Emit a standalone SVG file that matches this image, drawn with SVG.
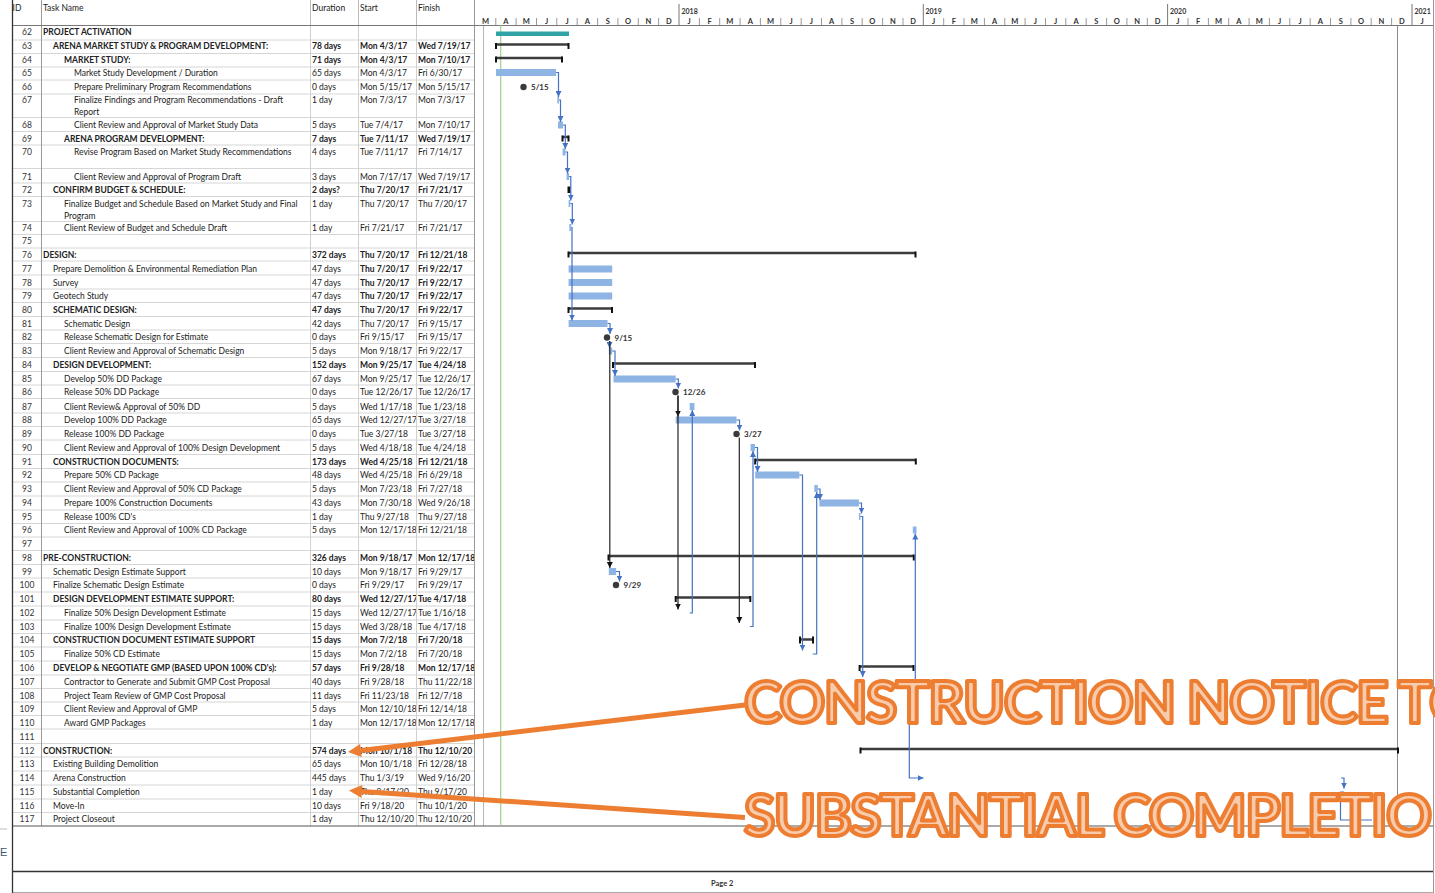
<svg xmlns="http://www.w3.org/2000/svg" width="1435" height="893" viewBox="0 0 1435 893">
<defs>
<style>
text{font-family:Lato,"Liberation Sans",sans-serif;fill:#222}
.t{font-size:8.5px}
.b{font-weight:bold}
.id{text-anchor:middle;fill:#333}
.mo{font-size:7.5px;font-weight:bold;text-anchor:middle;fill:#333}
.yr{font-size:7px;font-weight:bold;fill:#333}
.bar{fill:#8DB4E2}
.sl{stroke:#3c3c3c;stroke-width:2.5}
.tk{fill:#111}
.ln{fill:none;stroke:#4472C4;stroke-width:1.2}
.lk{fill:none;stroke:#222;stroke-width:1.2}
.ms{fill:#3a3a3a}
.ml{font-size:8px;font-weight:bold;fill:#333}
.grid{stroke:#D6D6D6;stroke-width:1;fill:none}
.call{font-size:57px;font-weight:bold;letter-spacing:-1.6px;fill:#F8CBAD;stroke:#ED7D31;stroke-width:4;stroke-linejoin:round}
.ol{stroke:#ED7D31;stroke-width:5;fill:none}
</style>
<clipPath id="cs"><rect x="358" y="0" width="58" height="893"/></clipPath>
<clipPath id="cf"><rect x="416" y="0" width="58" height="893"/></clipPath>
<marker id="ab" viewBox="0 0 10 10" refX="10" refY="5" markerWidth="6" markerHeight="6" markerUnits="userSpaceOnUse" orient="auto"><path d="M0,0L10,5L0,10z" fill="#4472C4"/></marker>
<marker id="ak" viewBox="0 0 10 10" refX="10" refY="5" markerWidth="6" markerHeight="7" markerUnits="userSpaceOnUse" orient="auto"><path d="M0,0L10,5L0,10z" fill="#111"/></marker>
</defs>
<rect width="1435" height="893" fill="#fff"/>

<g id="frame">
<path class="grid" d="M12,40H474M12,53.5H474M12,67H474M12,80H474M12,94H474M12,117.5H474M12,131.5H474M12,145H474M12,168.5H474M12,183H474M12,196.5H474M12,221.5H474M12,234.5H474M12,248H474M12,261H474M12,275H474M12,289H474M12,302.5H474M12,316.5H474M12,330H474M12,343.5H474M12,357.5H474M12,371.5H474M12,385H474M12,398.5H474M12,413H474M12,426.5H474M12,440H474M12,454.5H474M12,468.5H474M12,482H474M12,496H474M12,510H474M12,523.5H474M12,537H474M12,550.5H474M12,564.5H474M12,578H474M12,592H474M12,606H474M12,620H474M12,633.5H474M12,647H474M12,661H474M12,675H474M12,688.5H474M12,702H474M12,715.5H474M12,729H474M12,743.5H474M12,757H474M12,771H474M12,785H474M12,799H474M12,812.5H474"/>
<path d="M310.5,25V826M358.5,25V826M416.5,25V826" stroke="#D0D0D0" stroke-width="1"/>
<path d="M41.5,0V826" stroke="#9a9a9a" stroke-width="1"/>
<path d="M310.5,0V25M358.5,0V25M416.5,0V25" stroke="#bbb" stroke-width="1"/>
<path d="M474.5,0V826" stroke="#999" stroke-width="1"/>
<path d="M483.5,25V826" stroke="#b5b5b5" stroke-width="1"/>
<path d="M1433.5,0V893" stroke="#999" stroke-width="1"/>
<path d="M12,25.5H1433" stroke="#777" stroke-width="1"/>
<path d="M12,826H1433" stroke="#555" stroke-width="1"/>
<path d="M12,871.5H1433" stroke="#333" stroke-width="1.3"/>
<path d="M12,892.5H1433" stroke="#aaa" stroke-width="1"/>
<path d="M12.5,0V893" stroke="#333" stroke-width="1.3"/>
<path d="M0,829H7" stroke="#bbb" stroke-width="1"/>
<path d="M500.7,25V826" stroke="#9ECF8E" stroke-width="1.2"/>
<path d="M1397.5,25V826" stroke="#8a8a8a" stroke-width="1"/>
<text x="0" y="856" style="font-family:'Liberation Sans',sans-serif;font-size:11px;fill:#3B5675">E</text>
<text x="711" y="886" style="font-size:7.5px;font-weight:bold;fill:#333">Page 2</text>
</g>

<g id="header">
<text class="t" x="12.5" y="11">ID</text>
<text class="t" x="43" y="11">Task Name</text>
<text class="t" x="312" y="11">Duration</text>
<text class="t" x="360" y="11">Start</text>
<text class="t" x="418" y="11">Finish</text>
<path d="M679,4V25M923.3,4V25M1167.6,4V25M1412,4V25" stroke="#777" stroke-width="1"/>
<path d="M495.8,18V25M516.1,18V25M536.5,18V25M556.8,18V25M577.2,18V25M597.6,18V25M617.9,18V25M638.3,18V25M658.6,18V25M699.4,18V25M719.7,18V25M740.1,18V25M760.4,18V25M780.8,18V25M801.2,18V25M821.5,18V25M841.9,18V25M862.2,18V25M882.6,18V25M903,18V25M943.7,18V25M964,18V25M984.4,18V25M1004.8,18V25M1025.1,18V25M1045.5,18V25M1065.8,18V25M1086.2,18V25M1106.6,18V25M1126.9,18V25M1147.3,18V25M1188,18V25M1208.4,18V25M1228.7,18V25M1249.1,18V25M1269.4,18V25M1289.8,18V25M1310.2,18V25M1330.5,18V25M1350.9,18V25M1371.2,18V25M1391.6,18V25" stroke="#999" stroke-width="1"/>
<text class="yr" x="681.5" y="14">2018</text>
<text class="yr" x="925.5" y="14">2019</text>
<text class="yr" x="1170" y="14">2020</text>
<text class="yr" x="1414.5" y="14">2021</text>
<text class="mo" y="24" x="485.6 505.9 526.3 546.7 567 587.4 607.8 628.1 648.5 668.8 689.2 709.5 729.9 750.3 770.6 791 811.3 831.7 852.1 872.4 892.8 913.1 933.5 953.9 974.2 994.6 1014.9 1035.3 1055.7 1076 1096.4 1116.7 1137.1 1157.5 1177.8 1198.2 1218.5 1238.9 1259.3 1279.6 1300 1320.3 1340.7 1361.1 1381.4 1401.8 1422.2">MAMJJASONDJFMAMJJASONDJFMAMJJASONDJFMAMJJASONDJ</text>
</g>

<g id="t62"><text class="t id" x="27" y="35">62</text><text class="t b" x="43" y="35">PROJECT ACTIVATION</text><rect x="496" y="31.5" width="73" height="4.5" fill="#2FA3A6"/></g>
<g id="t63"><text class="t id" x="27" y="49">63</text><text class="t b" x="53" y="49">ARENA MARKET STUDY &amp; PROGRAM DEVELOPMENT:</text><text class="t b" x="312" y="49">78 days</text><text class="t b" x="360" y="49" clip-path="url(#cs)">Mon 4/3/17</text><text class="t b" x="418" y="49" clip-path="url(#cf)">Wed 7/19/17</text><path class="sl" d="M496,44.5H569"/><rect class="tk" x="495" y="43" width="2" height="6"/><rect class="tk" x="567.5" y="43" width="2" height="6"/></g>
<g id="t64"><text class="t id" x="27" y="62.5">64</text><text class="t b" x="64" y="62.5">MARKET STUDY:</text><text class="t b" x="312" y="62.5">71 days</text><text class="t b" x="360" y="62.5" clip-path="url(#cs)">Mon 4/3/17</text><text class="t b" x="418" y="62.5" clip-path="url(#cf)">Mon 7/10/17</text><path class="sl" d="M496,58H562.6"/><rect class="tk" x="495" y="56.5" width="2" height="6"/><rect class="tk" x="561" y="56.5" width="2" height="6"/></g>
<g id="t65"><text class="t id" x="27" y="75.5">65</text><text class="t" x="74" y="75.5">Market Study Development / Duration</text><text class="t" x="312" y="75.5">65 days</text><text class="t" x="360" y="75.5" clip-path="url(#cs)">Mon 4/3/17</text><text class="t" x="418" y="75.5" clip-path="url(#cf)">Fri 6/30/17</text><rect class="bar" x="496" y="69" width="60" height="7"/></g>
<g id="t66"><text class="t id" x="27" y="90">66</text><text class="t" x="74" y="90">Prepare Preliminary Program Recommendations</text><text class="t" x="312" y="90">0 days</text><text class="t" x="360" y="90" clip-path="url(#cs)">Mon 5/15/17</text><text class="t" x="418" y="90" clip-path="url(#cf)">Mon 5/15/17</text><circle class="ms" cx="523.5" cy="87" r="3.2"/><text class="ml" x="531" y="90">5/15</text></g>
<g id="t67"><text class="t id" x="27" y="103">67</text><text class="t" x="74" y="103">Finalize Findings and Program Recommendations - Draft</text><text class="t" x="74" y="115">Report</text><text class="t" x="312" y="103">1 day</text><text class="t" x="360" y="103" clip-path="url(#cs)">Mon 7/3/17</text><text class="t" x="418" y="103" clip-path="url(#cf)">Mon 7/3/17</text><rect class="bar" x="557.3" y="96.5" width="1.7" height="7"/></g>
<g id="t68"><text class="t id" x="27" y="128">68</text><text class="t" x="74" y="128">Client Review and Approval of Market Study Data</text><text class="t" x="312" y="128">5 days</text><text class="t" x="360" y="128" clip-path="url(#cs)">Tue 7/4/17</text><text class="t" x="418" y="128" clip-path="url(#cf)">Mon 7/10/17</text><rect class="bar" x="558" y="121.5" width="5" height="7"/></g>
<g id="t69"><text class="t id" x="27" y="141.5">69</text><text class="t b" x="64" y="141.5">ARENA PROGRAM DEVELOPMENT:</text><text class="t b" x="312" y="141.5">7 days</text><text class="t b" x="360" y="141.5" clip-path="url(#cs)">Tue 7/11/17</text><text class="t b" x="418" y="141.5" clip-path="url(#cf)">Wed 7/19/17</text><path class="sl" d="M562,137H569"/><rect class="tk" x="561.5" y="135.5" width="2" height="6"/><rect class="tk" x="567.5" y="135.5" width="2" height="6"/></g>
<g id="t70"><text class="t id" x="27" y="155">70</text><text class="t" x="74" y="155">Revise Program Based on Market Study Recommendations</text><text class="t" x="312" y="155">4 days</text><text class="t" x="360" y="155" clip-path="url(#cs)">Tue 7/11/17</text><text class="t" x="418" y="155" clip-path="url(#cf)">Fri 7/14/17</text><rect class="bar" x="562.6" y="148.5" width="2.9" height="7"/></g>
<g id="t71"><text class="t id" x="27" y="179.5">71</text><text class="t" x="74" y="179.5">Client Review and Approval of Program Draft</text><text class="t" x="312" y="179.5">3 days</text><text class="t" x="360" y="179.5" clip-path="url(#cs)">Mon 7/17/17</text><text class="t" x="418" y="179.5" clip-path="url(#cf)">Wed 7/19/17</text><rect class="bar" x="566.6" y="173" width="2.4" height="7"/></g>
<g id="t72"><text class="t id" x="27" y="192.5">72</text><text class="t b" x="53" y="192.5">CONFIRM BUDGET &amp; SCHEDULE:</text><text class="t b" x="312" y="192.5">2 days?</text><text class="t b" x="360" y="192.5" clip-path="url(#cs)">Thu 7/20/17</text><text class="t b" x="418" y="192.5" clip-path="url(#cf)">Fri 7/21/17</text><rect class="tk" x="567.5" y="186.5" width="3" height="6.5"/></g>
<g id="t73"><text class="t id" x="27" y="206.5">73</text><text class="t" x="64" y="206.5">Finalize Budget and Schedule Based on Market Study and Final</text><text class="t" x="64" y="218.5">Program</text><text class="t" x="312" y="206.5">1 day</text><text class="t" x="360" y="206.5" clip-path="url(#cs)">Thu 7/20/17</text><text class="t" x="418" y="206.5" clip-path="url(#cf)">Thu 7/20/17</text><rect class="bar" x="568.6" y="200" width="1.7" height="7"/></g>
<g id="t74"><text class="t id" x="27" y="230.5">74</text><text class="t" x="64" y="230.5">Client Review of Budget and Schedule Draft</text><text class="t" x="312" y="230.5">1 day</text><text class="t" x="360" y="230.5" clip-path="url(#cs)">Fri 7/21/17</text><text class="t" x="418" y="230.5" clip-path="url(#cf)">Fri 7/21/17</text><rect class="bar" x="569.3" y="224" width="2" height="7"/></g>
<g id="t75"><text class="t id" x="27" y="244">75</text></g>
<g id="t76"><text class="t id" x="27" y="257.5">76</text><text class="t b" x="43" y="257.5">DESIGN:</text><text class="t b" x="312" y="257.5">372 days</text><text class="t b" x="360" y="257.5" clip-path="url(#cs)">Thu 7/20/17</text><text class="t b" x="418" y="257.5" clip-path="url(#cf)">Fri 12/21/18</text><path class="sl" d="M568.6,253H915.8"/><rect class="tk" x="567.5" y="251.5" width="2" height="6"/><rect class="tk" x="914.5" y="251.5" width="2" height="6"/></g>
<g id="t77"><text class="t id" x="27" y="272">77</text><text class="t" x="53" y="272">Prepare Demolition &amp; Environmental Remediation Plan</text><text class="t" x="312" y="272">47 days</text><text class="t b" x="360" y="272" clip-path="url(#cs)">Thu 7/20/17</text><text class="t b" x="418" y="272" clip-path="url(#cf)">Fri 9/22/17</text><rect class="bar" x="568.6" y="265.5" width="43.6" height="7"/></g>
<g id="t78"><text class="t id" x="27" y="285.5">78</text><text class="t" x="53" y="285.5">Survey</text><text class="t" x="312" y="285.5">47 days</text><text class="t b" x="360" y="285.5" clip-path="url(#cs)">Thu 7/20/17</text><text class="t b" x="418" y="285.5" clip-path="url(#cf)">Fri 9/22/17</text><rect class="bar" x="568.6" y="279" width="43.6" height="7"/></g>
<g id="t79"><text class="t id" x="27" y="299">79</text><text class="t" x="53" y="299">Geotech Study</text><text class="t" x="312" y="299">47 days</text><text class="t b" x="360" y="299" clip-path="url(#cs)">Thu 7/20/17</text><text class="t b" x="418" y="299" clip-path="url(#cf)">Fri 9/22/17</text><rect class="bar" x="568.6" y="292.5" width="43.6" height="7"/></g>
<g id="t80"><text class="t id" x="27" y="313">80</text><text class="t b" x="53" y="313">SCHEMATIC DESIGN:</text><text class="t b" x="312" y="313">47 days</text><text class="t b" x="360" y="313" clip-path="url(#cs)">Thu 7/20/17</text><text class="t b" x="418" y="313" clip-path="url(#cf)">Fri 9/22/17</text><path class="sl" d="M568.6,308.5H612.2"/><rect class="tk" x="567.5" y="307" width="2" height="6"/><rect class="tk" x="611" y="307" width="2" height="6"/></g>
<g id="t81"><text class="t id" x="27" y="326.5">81</text><text class="t" x="64" y="326.5">Schematic Design</text><text class="t" x="312" y="326.5">42 days</text><text class="t" x="360" y="326.5" clip-path="url(#cs)">Thu 7/20/17</text><text class="t" x="418" y="326.5" clip-path="url(#cf)">Fri 9/15/17</text><rect class="bar" x="568.6" y="320" width="38.9" height="7"/></g>
<g id="t82"><text class="t id" x="27" y="340">82</text><text class="t" x="64" y="340">Release Schematic Design for Estimate</text><text class="t" x="312" y="340">0 days</text><text class="t" x="360" y="340" clip-path="url(#cs)">Fri 9/15/17</text><text class="t" x="418" y="340" clip-path="url(#cf)">Fri 9/15/17</text><circle class="ms" cx="607" cy="337.5" r="3.2"/><text class="ml" x="614.5" y="340.5">9/15</text></g>
<g id="t83"><text class="t id" x="27" y="354">83</text><text class="t" x="64" y="354">Client Review and Approval of Schematic Design</text><text class="t" x="312" y="354">5 days</text><text class="t" x="360" y="354" clip-path="url(#cs)">Mon 9/18/17</text><text class="t" x="418" y="354" clip-path="url(#cf)">Fri 9/22/17</text><rect class="bar" x="608.8" y="347.5" width="3.4" height="7"/></g>
<g id="t84"><text class="t id" x="27" y="368">84</text><text class="t b" x="53" y="368">DESIGN DEVELOPMENT:</text><text class="t b" x="312" y="368">152 days</text><text class="t b" x="360" y="368" clip-path="url(#cs)">Mon 9/25/17</text><text class="t b" x="418" y="368" clip-path="url(#cf)">Tue 4/24/18</text><path class="sl" d="M613,363.5H755"/><rect class="tk" x="612" y="362" width="2" height="6"/><rect class="tk" x="754" y="362" width="2" height="6"/></g>
<g id="t85"><text class="t id" x="27" y="382">85</text><text class="t" x="64" y="382">Develop 50% DD Package</text><text class="t" x="312" y="382">67 days</text><text class="t" x="360" y="382" clip-path="url(#cs)">Mon 9/25/17</text><text class="t" x="418" y="382" clip-path="url(#cf)">Tue 12/26/17</text><rect class="bar" x="613.5" y="375.5" width="62.2" height="7"/></g>
<g id="t86"><text class="t id" x="27" y="395">86</text><text class="t" x="64" y="395">Release 50% DD Package</text><text class="t" x="312" y="395">0 days</text><text class="t" x="360" y="395" clip-path="url(#cs)">Tue 12/26/17</text><text class="t" x="418" y="395" clip-path="url(#cf)">Tue 12/26/17</text><circle class="ms" cx="675.5" cy="392" r="3.2"/><text class="ml" x="683" y="395">12/26</text></g>
<g id="t87"><text class="t id" x="27" y="409.5">87</text><text class="t" x="64" y="409.5">Client Review&amp; Approval of 50% DD</text><text class="t" x="312" y="409.5">5 days</text><text class="t" x="360" y="409.5" clip-path="url(#cs)">Wed 1/17/18</text><text class="t" x="418" y="409.5" clip-path="url(#cf)">Tue 1/23/18</text><rect class="bar" x="689.7" y="403" width="4.8" height="7"/></g>
<g id="t88"><text class="t id" x="27" y="423">88</text><text class="t" x="64" y="423">Develop 100% DD Package</text><text class="t" x="312" y="423">65 days</text><text class="t" x="360" y="423" clip-path="url(#cs)">Wed 12/27/17</text><text class="t" x="418" y="423" clip-path="url(#cf)">Tue 3/27/18</text><rect class="bar" x="675.7" y="416.5" width="60.8" height="7"/></g>
<g id="t89"><text class="t id" x="27" y="437">89</text><text class="t" x="64" y="437">Release 100% DD Package</text><text class="t" x="312" y="437">0 days</text><text class="t" x="360" y="437" clip-path="url(#cs)">Tue 3/27/18</text><text class="t" x="418" y="437" clip-path="url(#cf)">Tue 3/27/18</text><circle class="ms" cx="736.5" cy="434" r="3.2"/><text class="ml" x="744" y="437">3/27</text></g>
<g id="t90"><text class="t id" x="27" y="450.5">90</text><text class="t" x="64" y="450.5">Client Review and Approval of 100% Design Development</text><text class="t" x="312" y="450.5">5 days</text><text class="t" x="360" y="450.5" clip-path="url(#cs)">Wed 4/18/18</text><text class="t" x="418" y="450.5" clip-path="url(#cf)">Tue 4/24/18</text><rect class="bar" x="750.6" y="444" width="4.4" height="7"/></g>
<g id="t91"><text class="t id" x="27" y="464.5">91</text><text class="t b" x="53" y="464.5">CONSTRUCTION DOCUMENTS:</text><text class="t b" x="312" y="464.5">173 days</text><text class="t b" x="360" y="464.5" clip-path="url(#cs)">Wed 4/25/18</text><text class="t b" x="418" y="464.5" clip-path="url(#cf)">Fri 12/21/18</text><path class="sl" d="M755.2,460H916"/><rect class="tk" x="754.2" y="458.5" width="2" height="6"/><rect class="tk" x="914.8" y="458.5" width="2" height="6"/></g>
<g id="t92"><text class="t id" x="27" y="478">92</text><text class="t" x="64" y="478">Prepare 50% CD Package</text><text class="t" x="312" y="478">48 days</text><text class="t" x="360" y="478" clip-path="url(#cs)">Wed 4/25/18</text><text class="t" x="418" y="478" clip-path="url(#cf)">Fri 6/29/18</text><rect class="bar" x="755.2" y="471.5" width="44.1" height="7"/></g>
<g id="t93"><text class="t id" x="27" y="491.5">93</text><text class="t" x="64" y="491.5">Client Review and Approval of 50% CD Package</text><text class="t" x="312" y="491.5">5 days</text><text class="t" x="360" y="491.5" clip-path="url(#cs)">Mon 7/23/18</text><text class="t" x="418" y="491.5" clip-path="url(#cf)">Fri 7/27/18</text><rect class="bar" x="814.3" y="485" width="3.5" height="7"/></g>
<g id="t94"><text class="t id" x="27" y="506">94</text><text class="t" x="64" y="506">Prepare 100% Construction Documents</text><text class="t" x="312" y="506">43 days</text><text class="t" x="360" y="506" clip-path="url(#cs)">Mon 7/30/18</text><text class="t" x="418" y="506" clip-path="url(#cf)">Wed 9/26/18</text><rect class="bar" x="819.4" y="499.5" width="39.5" height="7"/></g>
<g id="t95"><text class="t id" x="27" y="519.5">95</text><text class="t" x="64" y="519.5">Release 100% CD's</text><text class="t" x="312" y="519.5">1 day</text><text class="t" x="360" y="519.5" clip-path="url(#cs)">Thu 9/27/18</text><text class="t" x="418" y="519.5" clip-path="url(#cf)">Thu 9/27/18</text><rect class="bar" x="858.9" y="513" width="1.5" height="7"/></g>
<g id="t96"><text class="t id" x="27" y="533">96</text><text class="t" x="64" y="533">Client Review and Approval of 100% CD Package</text><text class="t" x="312" y="533">5 days</text><text class="t" x="360" y="533" clip-path="url(#cs)">Mon 12/17/18</text><text class="t" x="418" y="533" clip-path="url(#cf)">Fri 12/21/18</text><rect class="bar" x="912.8" y="526.5" width="3.7" height="7"/></g>
<g id="t97"><text class="t id" x="27" y="546.5">97</text></g>
<g id="t98"><text class="t id" x="27" y="560.5">98</text><text class="t b" x="43" y="560.5">PRE-CONSTRUCTION:</text><text class="t b" x="312" y="560.5">326 days</text><text class="t b" x="360" y="560.5" clip-path="url(#cs)">Mon 9/18/17</text><text class="t b" x="418" y="560.5" clip-path="url(#cf)">Mon 12/17/18</text><path class="sl" d="M608.5,556H914"/><rect class="tk" x="607.5" y="554.5" width="2" height="6"/><rect class="tk" x="912.8" y="554.5" width="2" height="6"/></g>
<g id="t99"><text class="t id" x="27" y="574.5">99</text><text class="t" x="53" y="574.5">Schematic Design Estimate Support</text><text class="t" x="312" y="574.5">10 days</text><text class="t" x="360" y="574.5" clip-path="url(#cs)">Mon 9/18/17</text><text class="t" x="418" y="574.5" clip-path="url(#cf)">Fri 9/29/17</text><rect class="bar" x="608.8" y="568" width="7.3" height="7"/></g>
<g id="t100"><text class="t id" x="27" y="588">100</text><text class="t" x="53" y="588">Finalize Schematic Design Estimate</text><text class="t" x="312" y="588">0 days</text><text class="t" x="360" y="588" clip-path="url(#cs)">Fri 9/29/17</text><text class="t" x="418" y="588" clip-path="url(#cf)">Fri 9/29/17</text><circle class="ms" cx="616" cy="585" r="3.2"/><text class="ml" x="623.5" y="588">9/29</text></g>
<g id="t101"><text class="t id" x="27" y="602">101</text><text class="t b" x="53" y="602">DESIGN DEVELOPMENT ESTIMATE SUPPORT:</text><text class="t b" x="312" y="602">80 days</text><text class="t b" x="360" y="602" clip-path="url(#cs)">Wed 12/27/17</text><text class="t b" x="418" y="602" clip-path="url(#cf)">Tue 4/17/18</text><path class="sl" d="M675.7,597.5H750.5"/><rect class="tk" x="674.7" y="596" width="2" height="6"/><rect class="tk" x="749.3" y="596" width="2" height="6"/></g>
<g id="t102"><text class="t id" x="27" y="616">102</text><text class="t" x="64" y="616">Finalize 50% Design Development Estimate</text><text class="t" x="312" y="616">15 days</text><text class="t" x="360" y="616" clip-path="url(#cs)">Wed 12/27/17</text><text class="t" x="418" y="616" clip-path="url(#cf)">Tue 1/16/18</text></g>
<g id="t103"><text class="t id" x="27" y="629.5">103</text><text class="t" x="64" y="629.5">Finalize 100% Design Development Estimate</text><text class="t" x="312" y="629.5">15 days</text><text class="t" x="360" y="629.5" clip-path="url(#cs)">Wed 3/28/18</text><text class="t" x="418" y="629.5" clip-path="url(#cf)">Tue 4/17/18</text></g>
<g id="t104"><text class="t id" x="27" y="643">104</text><text class="t b" x="53" y="643">CONSTRUCTION DOCUMENT ESTIMATE SUPPORT</text><text class="t b" x="312" y="643">15 days</text><text class="t b" x="360" y="643" clip-path="url(#cs)">Mon 7/2/18</text><text class="t b" x="418" y="643" clip-path="url(#cf)">Fri 7/20/18</text><path class="sl" d="M800,639.5H813"/><rect class="tk" x="799" y="636.5" width="2" height="7"/><rect class="tk" x="812" y="636.5" width="2" height="7"/></g>
<g id="t105"><text class="t id" x="27" y="657">105</text><text class="t" x="64" y="657">Finalize 50% CD Estimate</text><text class="t" x="312" y="657">15 days</text><text class="t" x="360" y="657" clip-path="url(#cs)">Mon 7/2/18</text><text class="t" x="418" y="657" clip-path="url(#cf)">Fri 7/20/18</text></g>
<g id="t106"><text class="t id" x="27" y="671">106</text><text class="t b" x="53" y="671">DEVELOP &amp; NEGOTIATE GMP (BASED UPON 100% CD's):</text><text class="t b" x="312" y="671">57 days</text><text class="t b" x="360" y="671" clip-path="url(#cs)">Fri 9/28/18</text><text class="t b" x="418" y="671" clip-path="url(#cf)">Mon 12/17/18</text><path class="sl" d="M859.6,666.5H913.8"/><rect class="tk" x="858.6" y="665" width="2" height="6"/><rect class="tk" x="912.5" y="665" width="2" height="6"/></g>
<g id="t107"><text class="t id" x="27" y="684.5">107</text><text class="t" x="64" y="684.5">Contractor to Generate and Submit GMP Cost Proposal</text><text class="t" x="312" y="684.5">40 days</text><text class="t" x="360" y="684.5" clip-path="url(#cs)">Fri 9/28/18</text><text class="t" x="418" y="684.5" clip-path="url(#cf)">Thu 11/22/18</text></g>
<g id="t108"><text class="t id" x="27" y="698.5">108</text><text class="t" x="64" y="698.5">Project Team Review of GMP Cost Proposal</text><text class="t" x="312" y="698.5">11 days</text><text class="t" x="360" y="698.5" clip-path="url(#cs)">Fri 11/23/18</text><text class="t" x="418" y="698.5" clip-path="url(#cf)">Fri 12/7/18</text></g>
<g id="t109"><text class="t id" x="27" y="712">109</text><text class="t" x="64" y="712">Client Review and Approval of GMP</text><text class="t" x="312" y="712">5 days</text><text class="t" x="360" y="712" clip-path="url(#cs)">Mon 12/10/18</text><text class="t" x="418" y="712" clip-path="url(#cf)">Fri 12/14/18</text></g>
<g id="t110"><text class="t id" x="27" y="725.5">110</text><text class="t" x="64" y="725.5">Award GMP Packages</text><text class="t" x="312" y="725.5">1 day</text><text class="t" x="360" y="725.5" clip-path="url(#cs)">Mon 12/17/18</text><text class="t" x="418" y="725.5" clip-path="url(#cf)">Mon 12/17/18</text></g>
<g id="t111"><text class="t id" x="27" y="740">111</text></g>
<g id="t112"><text class="t id" x="27" y="753.5">112</text><text class="t b" x="43" y="753.5">CONSTRUCTION:</text><text class="t b" x="312" y="753.5">574 days</text><text class="t b" x="360" y="753.5" clip-path="url(#cs)">Mon 10/1/18</text><text class="t b" x="418" y="753.5" clip-path="url(#cf)">Thu 12/10/20</text><path class="sl" d="M860.5,749H1398"/><rect class="tk" x="859.5" y="747.5" width="2" height="6"/><rect class="tk" x="1397" y="747.5" width="2" height="6"/></g>
<g id="t113"><text class="t id" x="27" y="767">113</text><text class="t" x="53" y="767">Existing Building Demolition</text><text class="t" x="312" y="767">65 days</text><text class="t" x="360" y="767" clip-path="url(#cs)">Mon 10/1/18</text><text class="t" x="418" y="767" clip-path="url(#cf)">Fri 12/28/18</text></g>
<g id="t114"><text class="t id" x="27" y="781">114</text><text class="t" x="53" y="781">Arena Construction</text><text class="t" x="312" y="781">445 days</text><text class="t" x="360" y="781" clip-path="url(#cs)">Thu 1/3/19</text><text class="t" x="418" y="781" clip-path="url(#cf)">Wed 9/16/20</text></g>
<g id="t115"><text class="t id" x="27" y="795">115</text><text class="t" x="53" y="795">Substantial Completion</text><text class="t" x="312" y="795">1 day</text><text class="t" x="360" y="795" clip-path="url(#cs)">Thu 9/17/20</text><text class="t" x="418" y="795" clip-path="url(#cf)">Thu 9/17/20</text></g>
<g id="t116"><text class="t id" x="27" y="808.5">116</text><text class="t" x="53" y="808.5">Move-In</text><text class="t" x="312" y="808.5">10 days</text><text class="t" x="360" y="808.5" clip-path="url(#cs)">Fri 9/18/20</text><text class="t" x="418" y="808.5" clip-path="url(#cf)">Thu 10/1/20</text></g>
<g id="t117"><text class="t id" x="27" y="822">117</text><text class="t" x="53" y="822">Project Closeout</text><text class="t" x="312" y="822">1 day</text><text class="t" x="360" y="822" clip-path="url(#cs)">Thu 12/10/20</text><text class="t" x="418" y="822" clip-path="url(#cf)">Thu 12/10/20</text></g>

<g id="links">
<path class="ln" marker-end="url(#ab)" d="M556,72.5H558.5V97"/>
<path class="ln" marker-end="url(#ab)" d="M559,100H560.5V122"/>
<path class="ln" marker-end="url(#ab)" d="M563,125H565.3V149"/>
<path class="ln" marker-end="url(#ab)" d="M565.5,152H567.5V173.5"/>
<path class="ln" marker-end="url(#ab)" d="M569,176.5H570.8V200.5"/>
<path class="ln" marker-end="url(#ab)" d="M570.3,203.5H572.3V224.5"/>
<path class="ln" marker-end="url(#ab)" d="M571.3,227.5H572V320.5"/>
<path class="ln" marker-end="url(#ab)" d="M607.5,323.5H610V334"/>
<path class="ln" marker-end="url(#ab)" d="M609.5,341V348"/>
<path class="ln" marker-end="url(#ab)" d="M612.2,351H615V376"/>
<path class="ln" marker-end="url(#ab)" d="M675.7,379H678.3V388.5"/>
<path class="ln" marker-end="url(#ab)" d="M736.5,420H739.5V430.5"/>
<path class="ln" marker-end="url(#ab)" d="M755,447.5H757.5V472"/>
<path class="ln" marker-end="url(#ab)" d="M817.8,489H820V500"/>
<path class="ln" marker-end="url(#ab)" d="M858.9,503H861.5V513.5"/>
<path class="ln" marker-end="url(#ab)" d="M860.4,516.5H862.7V677"/>
<path class="ln" marker-end="url(#ab)" d="M616.1,571.5H619.5V581.5"/>
<path class="ln" marker-end="url(#ab)" d="M799.3,475H802.5V650.5"/>
<path class="ln" marker-end="url(#ab)" d="M689.7,613H692.3V410"/>
<path class="ln" marker-end="url(#ab)" d="M749.9,626.5H753V451"/>
<path class="ln" marker-end="url(#ab)" d="M812.8,654H816.7V492"/>
<path class="ln" marker-end="url(#ab)" d="M913.8,722.5H915.3V533.5"/>
<path class="ln" marker-end="url(#ab)" d="M911.1,709H915.3V719"/>
<path class="ln" marker-end="url(#ab)" d="M913.5,722.5H909.3V778H923.5"/>
<path class="ln" marker-end="url(#ab)" d="M1341,778H1344V788.5"/>
<path class="ln" d="M1344,792H1340.5V820H1372"/>
<path class="lk" marker-end="url(#ak)" d="M609.8,341V568"/>
<path class="lk" marker-end="url(#ak)" d="M678,395.5V416.5"/>
<path class="lk" marker-end="url(#ak)" d="M678,395.5V609.5"/>
<path class="lk" marker-end="url(#ak)" d="M739.3,437.5V623"/>
</g>

<g id="callout-ntp">
<path class="ol" d="M745,705L361,750.5"/>
<polygon points="348,752 361.7,756.9 360.1,744" fill="#ED7D31"/>
<text class="call" x="744" y="723">CONSTRUCTION NOTICE TO</text>
</g>
<g id="callout-sc">
<path class="ol" d="M745,817.5L362,791.4"/>
<polygon points="349,790.5 362.4,784.9 361.6,797.9" fill="#ED7D31"/>
<text class="call" x="744" y="836">SUBSTANTIAL COMPLETIO</text>
</g>
</svg>
